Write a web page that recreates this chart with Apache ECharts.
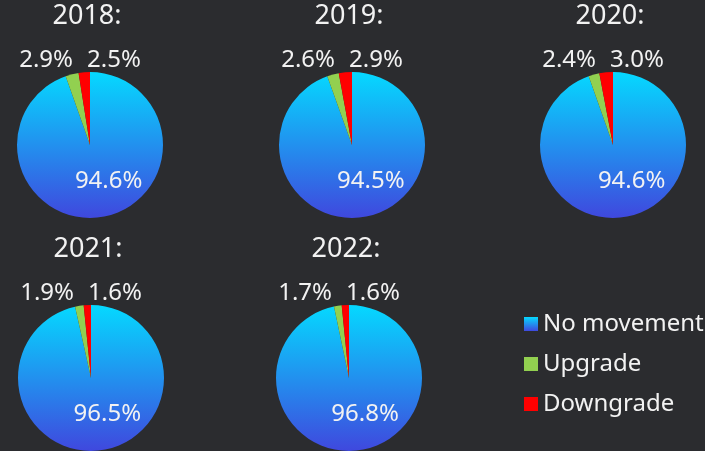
<!DOCTYPE html>
<html>
<head>
<meta charset="utf-8">
<script src="https://cdn.jsdelivr.net/npm/echarts@6/dist/echarts.min.js"></script>
<style>
  html, body { margin: 0; padding: 0; background: #2b2c2f; }
  #chart { width: 705px; height: 451px; }
</style>
</head>
<body>
<div id="chart"></div>
<script>
// data
const years = ["2018", "2019", "2020", "2021", "2022"];
const categories = ["No movement", "Upgrade", "Downgrade"];
const noMovement = [94.6, 94.5, 94.6, 96.5, 96.8];
const upgrade = [2.9, 2.6, 2.4, 1.9, 1.7];
const downgrade = [2.5, 2.9, 3.0, 1.6, 1.6];

// where each pie sits
const centers = [[90, 145], [352, 145], [613, 145], [91, 378], [349, 378]];
const R = 73;

const blueGrad = new echarts.graphic.LinearGradient(0, 0, 0, 1, [
  { offset: 0, color: "#05d9ff" },
  { offset: 1, color: "#3f48de" },
]);
const colors = [blueGrad, "#92d050", "#ff0000"];

const chart = echarts.init(document.getElementById("chart"));

const series = years.map((y, i) => {
  const [cx, cy] = centers[i];
  return {
    type: "pie",
    name: y,
    center: [cx, cy],
    radius: R,
    startAngle: 90,
    clockwise: true,
    animation: false,
    silent: true,
    label: {
      show: true,
      position: "inside",
      color: "#f2f2f2",
      fontSize: 24,
      fontFamily: "Noto Sans",
      formatter: (p) => p.value.toFixed(1) + "%",
    },
    labelLine: { show: false },
    labelLayout: (p) => {
      if (p.dataIndex === 0) return { dx: 12, dy: -3 };
      if (p.dataIndex === 1)
        return { x: cx - 17, y: cy - R, align: "right", verticalAlign: "bottom" };
      return { x: cx - 3, y: cy - R, align: "left", verticalAlign: "bottom" };
    },
    data: [
      { name: categories[0], value: noMovement[i] },
      { name: categories[1], value: upgrade[i] },
      { name: categories[2], value: downgrade[i] },
    ],
  };
});

const titles = years.map((y, i) => ({
  text: y + ":",
  left: centers[i][0] - 3,
  top: centers[i][1] - R - 69,
  textAlign: "center",
  padding: 0,
  textStyle: {
    color: "#f2f2f2",
    fontSize: 27,
    fontWeight: "normal",
    fontFamily: "Noto Sans",
  },
}));

chart.setOption({
  backgroundColor: "#2b2c2f",
  color: colors,
  title: titles,
  legend: {
    orient: "vertical",
    left: 519,
    top: 307,
    icon: "rect",
    itemWidth: 14,
    itemHeight: 14,
    itemGap: 16,
    data: categories,
    textStyle: { color: "#f2f2f2", fontSize: 24, fontFamily: "Noto Sans" },
  },
  series: series,
});
</script>
</body>
</html>
